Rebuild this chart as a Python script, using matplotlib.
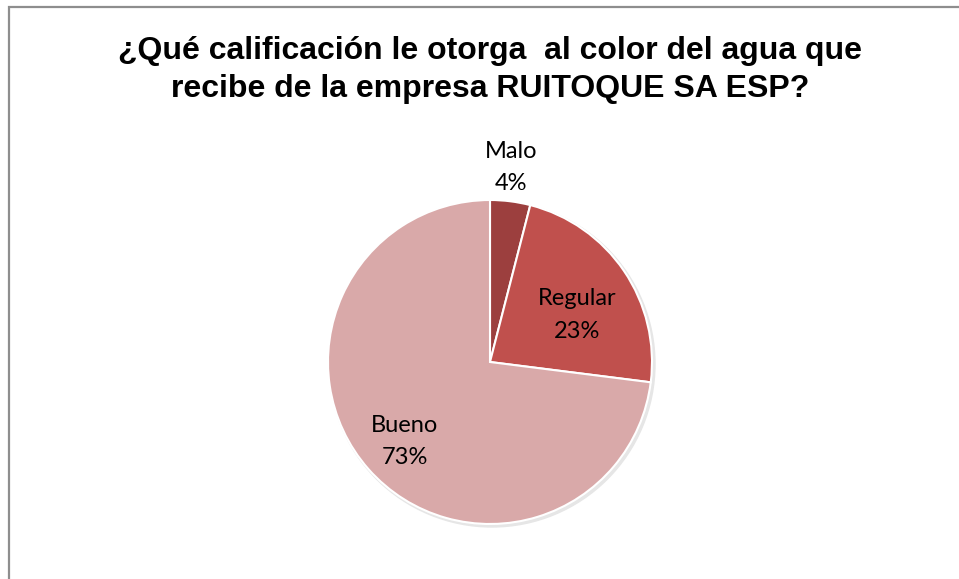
import matplotlib.pyplot as plt
from matplotlib.patches import Rectangle

categories = ["Malo", "Regular", "Bueno"]
values = [4, 23, 73]
colors = ["#9C3F3E", "#C0504D", "#D9A9A9"]

title = "¿Qué calificación le otorga  al color del agua que\nrecibe de la empresa RUITOQUE SA ESP?"

W, H = 959, 579
fig = plt.figure(figsize=(W / 100, H / 100), dpi=100)
ax = fig.add_axes([0, 0, 1, 1])

cx, cy, r = 490, H - 362, 162
# label offsets from the pie centre, in radius units
label_off = [(0.13, 1.2), (0.537, 0.29), (-0.525, -0.49)]

# frame of the chart area (right and bottom edges fall outside the image)
ax.add_patch(Rectangle((9, -20), W + 20, H - 7 + 20, fill=False,
                       edgecolor="#8E8E8E", linewidth=1.6))

# faint shadow
ax.add_patch(plt.Circle((cx + 2, cy - 2), r + 1, color="#E6E6E6", zorder=1))

wedges, _ = ax.pie(values, colors=colors, startangle=90, counterclock=False,
                   center=(cx, cy), radius=r,
                   wedgeprops=dict(edgecolor="white", linewidth=1.5, zorder=2))
ax.set_aspect("equal")
ax.set_xlim(0, W)
ax.set_ylim(0, H)
ax.axis("off")

for name, v, (dx, dy) in zip(categories, values, label_off):
    ax.text(cx + dx * r, cy + dy * r, f"{name}\n{v}%", ha="center", va="center",
            fontsize=17, family="Lato", linespacing=1.65, color="black", zorder=3)

ax.text(490, H - 70, title, ha="center", va="center", fontsize=23,
        fontweight="bold", family="Liberation Sans", linespacing=1.32)

fig.savefig("out.png", dpi=100)
